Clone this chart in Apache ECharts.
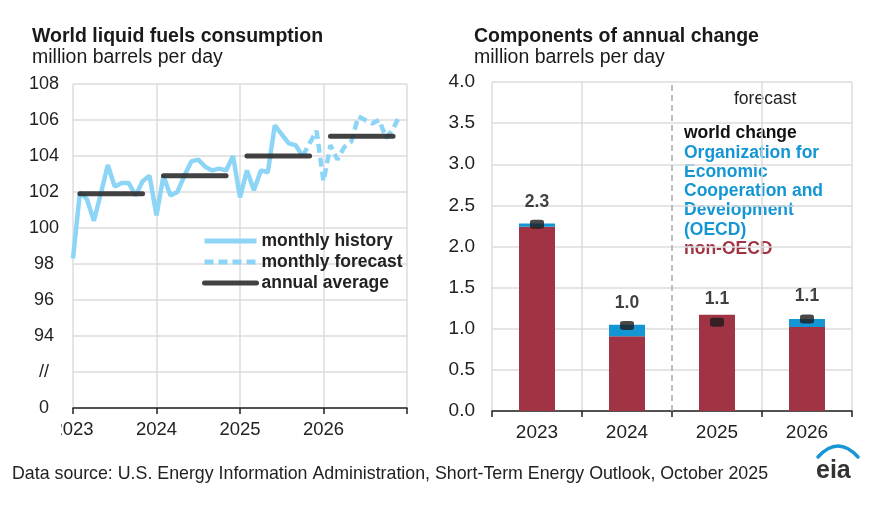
<!DOCTYPE html>
<html><head><meta charset="utf-8">
<script src="https://cdn.jsdelivr.net/npm/echarts@6/dist/echarts.min.js"></script>
<style>html,body{margin:0;padding:0;background:#fff}#c{width:879px;height:505px}</style>
</head><body><div id="c"></div>
<script>
// ---- data ----
const years = ['2023', '2024', '2025', '2026'];
// monthly world liquid fuels consumption, Jan 2023 .. Oct 2025 (history)
const monthlyHistory = [98.3, 102.0, 101.6, 100.4, 101.9, 103.5, 102.3, 102.5, 102.5, 101.8, 102.6, 102.9,
  100.7, 102.9, 101.8, 102.0, 102.9, 103.7, 103.8, 103.4, 103.2, 103.3, 103.2, 104.0,
  101.7, 103.2, 102.1, 103.2, 103.1, 105.7, 105.2, 104.7, 104.6, 104.0];
// monthly forecast, Nov 2025 .. Dec 2026
const monthlyForecast = [104.7, 105.4, 102.6, 104.6, 103.8, 104.5, 104.8, 106.2, 106.0, 105.8, 106.0, 105.0, 105.5, 106.3];
const annualAverage = [101.9, 102.9, 104.0, 105.1];
const leftBreakLabels = { 90: '0', 92: '//' };
// components of annual change
const changeYears = ['2023', '2024', '2025', '2026'];
const nonOECD = [2.24, 0.91, 1.17, 1.02];
const oecd = [0.04, 0.14, -0.02, 0.10];
const worldChange = [2.27, 1.04, 1.08, 1.12];
const rightLegendLines = [
  ['world change', '#111111'],
  ['Organization for', '#1596d4'],
  ['Economic', '#1596d4'],
  ['Cooperation and', '#1596d4'],
  ['Development', '#1596d4'],
  ['(OECD)', '#1596d4'],
  ['non-OECD', '#a13444']
];

// ---- build ----
const FF = "'Liberation Sans', Arial, sans-serif";
const histData = monthlyHistory.map((v, i) => [i, v]);
const lastH = monthlyHistory.length - 1;
const fcData = [[lastH, monthlyHistory[lastH]]].concat(monthlyForecast.map((v, i) => [lastH + 1 + i, v]));
const annualData = [];
annualAverage.forEach((v, k) => { annualData.push([12 * k + 1, v], [12 * k + 10, v], [12 * k + 11, '-']); });

const grid = '#dddddd';
const graphics = [
  { type: 'rect', left: 40, top: 420, shape: { width: 21, height: 24 }, style: { fill: '#fff' }, z: 100 },
  { type: 'text', left: 32, top: 27, style: { text: 'World liquid fuels consumption', font: 'bold 19.5px ' + FF, fill: '#1a1a1a' } },
  { type: 'text', left: 32, top: 48, style: { text: 'million barrels per day', font: '19.5px ' + FF, fill: '#1a1a1a' } },
  { type: 'text', left: 474, top: 27, style: { text: 'Components of annual change', font: 'bold 19.5px ' + FF, fill: '#1a1a1a' } },
  { type: 'text', left: 474, top: 48, style: { text: 'million barrels per day', font: '19.5px ' + FF, fill: '#1a1a1a' } },
  { type: 'text', left: 734, top: 90, style: { text: 'forecast', font: '17.5px ' + FF, fill: '#222' } },
  { type: 'text', left: 12, top: 465, style: { text: 'Data source: U.S. Energy Information Administration, Short-Term Energy Outlook, October 2025', font: '17.8px ' + FF, fill: '#222' } },
  { type: 'bezierCurve', shape: { x1: 818, y1: 457, x2: 858, y2: 457, cpx1: 838, cpy1: 435 },
    style: { stroke: '#1a95d3', lineWidth: 3.5, fill: null, lineCap: 'round' } },
  { type: 'text', left: 816, top: 459, style: { text: 'eia', font: 'bold 25px ' + FF, fill: '#333' } }
];
rightLegendLines.forEach((l, k) => {
  graphics.push({ type: 'text', left: 684, top: 124.5 + k * 19.25,
    style: { text: l[0], font: 'bold 17.5px ' + FF, fill: l[1] } });
});

const chart = echarts.init(document.getElementById('c'), null, { renderer: 'canvas' });
chart.setOption({
  animation: false,
  textStyle: { fontFamily: FF },
  grid: [
    { left: 73, top: 84, width: 334, height: 324 },
    { left: 492, top: 82, width: 360, height: 329 }
  ],
  xAxis: [
    { type: 'value', gridIndex: 0, min: 0, max: 48, interval: 12,
      axisLine: { lineStyle: { color: '#222', width: 1.5 } },
      axisTick: { show: true, length: 6, lineStyle: { color: '#222', width: 1.5 } },
      axisLabel: { fontSize: 18.5, color: '#222', margin: 12, fontFamily: FF,
        formatter: v => years[v / 12] || '' },
      splitLine: { show: true, lineStyle: { color: grid, width: 1.5 } } },
    { type: 'category', gridIndex: 1, data: changeYears,
      axisLine: { lineStyle: { color: '#222', width: 1.5 } },
      axisTick: { show: true, length: 6, lineStyle: { color: '#222', width: 1.5 } },
      axisLabel: { fontSize: 19, color: '#222', margin: 12, fontFamily: FF },
      splitLine: { show: true, interval: 0, lineStyle: { color: [grid, grid, 'rgba(0,0,0,0)', grid, grid], width: 1.5 } } },
    { type: 'value', gridIndex: 1, min: 0, max: 4, show: false }
  ],
  yAxis: [
    { type: 'value', gridIndex: 0, min: 90, max: 108, interval: 2,
      axisLine: { show: false }, axisTick: { show: false },
      axisLabel: { fontSize: 18, color: '#222', align: 'center', margin: 29, fontFamily: FF,
        formatter: v => (leftBreakLabels[v] !== undefined ? leftBreakLabels[v] : String(v)) },
      splitLine: { lineStyle: { color: grid, width: 1.5 } } },
    { type: 'value', gridIndex: 1, min: 0, max: 4, interval: 0.5,
      axisLine: { show: false }, axisTick: { show: false },
      axisLabel: { fontSize: 19, color: '#222', margin: 17, fontFamily: FF, formatter: v => v.toFixed(1) },
      splitLine: { lineStyle: { color: grid, width: 1.5 } } }
  ],
  legend: {
    data: ['monthly history', 'monthly forecast', 'annual average'],
    orient: 'vertical', left: 202, top: 232, padding: 0, itemWidth: 52, itemHeight: 14, itemGap: 3,
    itemStyle: { opacity: 0 },
    lineStyle: { width: 5 },
    textStyle: { fontSize: 17.5, fontWeight: 'bold', color: '#222', fontFamily: FF },
    selectedMode: false
  },
  series: [
    { name: 'monthly history', type: 'line', xAxisIndex: 0, yAxisIndex: 0, data: histData,
      showSymbol: false, symbol: 'none', color: '#8dd5f6',
      lineStyle: { width: 4.5, color: '#8dd5f6' }, z: 3 },
    { name: 'monthly forecast', type: 'line', xAxisIndex: 0, yAxisIndex: 0, data: fcData,
      showSymbol: false, symbol: 'none', color: '#8dd5f6',
      lineStyle: { width: 4.5, color: '#8dd5f6', type: [9, 5] }, z: 3 },
    { name: 'annual average', type: 'line', xAxisIndex: 0, yAxisIndex: 0, data: annualData,
      showSymbol: false, symbol: 'none', connectNulls: false, color: '#3a3a3a',
      lineStyle: { width: 5, color: 'rgba(45,45,45,0.9)', cap: 'round' }, z: 4 },
    { name: 'non-OECD', type: 'bar', xAxisIndex: 1, yAxisIndex: 1, stack: 'chg', data: nonOECD,
      barWidth: 36, itemStyle: { color: '#a13444' } },
    { name: 'OECD', type: 'bar', xAxisIndex: 1, yAxisIndex: 1, stack: 'chg', data: oecd,
      barWidth: 36, itemStyle: { color: '#1596d4' } },
    { name: 'world change', type: 'scatter', xAxisIndex: 1, yAxisIndex: 1, data: worldChange,
      symbol: 'roundRect', symbolSize: [14, 9], itemStyle: { color: '#1c1c1c' }, z: 10,
      label: { show: true, position: 'top', distance: 9, formatter: p => p.value.toFixed(1),
        fontSize: 17.5, fontWeight: 'bold', color: '#111', fontFamily: FF } },
    { name: 'divider', type: 'line', xAxisIndex: 2, yAxisIndex: 1, data: [[2, 0]],
      showSymbol: false, symbol: 'none', lineStyle: { width: 0 }, silent: true,
      markLine: { symbol: 'none', silent: true, label: { show: false },
        lineStyle: { type: [6, 4], color: '#aaaaaa', width: 1.5 }, data: [{ xAxis: 2 }] } }
  ],
  graphic: graphics
});
</script></body></html>
